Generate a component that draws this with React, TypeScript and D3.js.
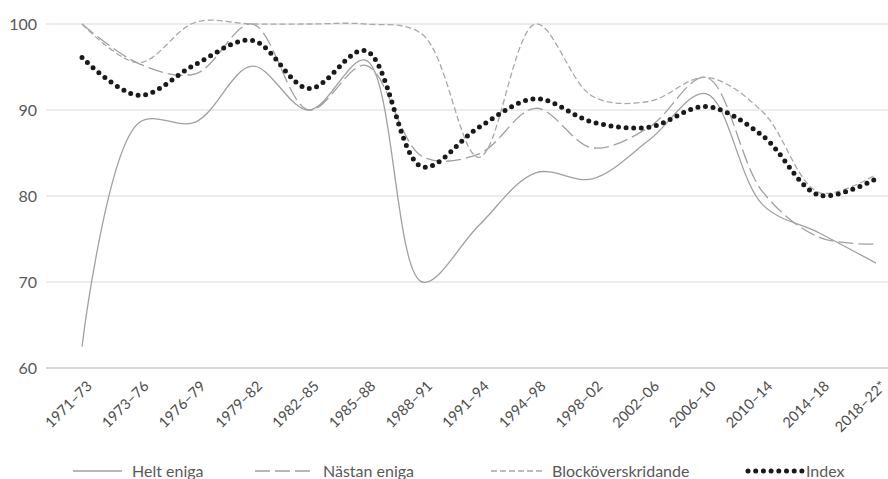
import * as d3 from "d3";

const categories = [
  "1971–73", "1973–76", "1976–79", "1979–82", "1982–85", "1985–88", "1988–91",
  "1991–94", "1994–98", "1998–02", "2002–06", "2006–10", "2010–14", "2014–18", "2018–22*",
];

const heltEniga = [62.5, 88.5, 88.6, 95.1, 90.0, 95.8, 70.0, 76.6, 82.7, 82.0, 86.5, 91.9, 79.0, 75.7, 72.2];
const nastanEniga = [100.0, 95.4, 94.2, 100.0, 90.0, 95.2, 84.6, 84.9, 90.2, 85.6, 88.0, 93.8, 80.5, 75.2, 74.4];
const blockoverskridande = [100.0, 95.5, 100.2, 100.0, 100.0, 100.0, 98.8, 84.5, 100.0, 91.6, 91.0, 93.8, 89.8, 80.4, 82.5];
const indexSeries = [96.1, 91.7, 95.3, 98.1, 92.5, 96.9, 83.4, 88.0, 91.3, 88.6, 88.0, 90.4, 87.0, 80.1, 82.0];

const yTicks = [60, 70, 80, 90, 100];

const series = [
  { name: "Helt eniga", values: heltEniga, color: "#a0a0a0", width: 1.3, dash: "", legendX: 73, legendW: 49 },
  { name: "Nästan eniga", values: nastanEniga, color: "#a0a0a0", width: 1.3, dash: "15 5", legendX: 255, legendW: 58 },
  { name: "Blocköverskridande", values: blockoverskridande, color: "#a8a8a8", width: 1.3, dash: "6 3", legendX: 491, legendW: 51 },
];

const font = "Lato, 'Open Sans', sans-serif";

export default function App() {
  const width = 888;
  const height = 479;

  const x = d3.scalePoint<string>().domain(categories).range([82, 876]);
  const y = d3.scaleLinear().domain([60, 100]).range([368, 24]);

  const line = d3
    .line<number>()
    .x((_, i) => x(categories[i]) as number)
    .y((d) => y(d))
    .curve(d3.curveCatmullRom.alpha(0.5));

  const legendY = 471;

  return (
    <svg
      width={width}
      height={height}
      style={{ position: "absolute", left: 0, top: 0, background: "#fff" }}
      fontFamily={font}
    >
      {/* gridlines */}
      {yTicks.map((t) => (
        <line
          key={t}
          x1={46}
          x2={888}
          y1={y(t)}
          y2={y(t)}
          stroke="#d9d9d9"
          strokeWidth={t === 60 ? 2 : 1}
        />
      ))}
      {yTicks.map((t) => (
        <text key={"l" + t} x={37} y={y(t)} dy="0.35em" textAnchor="end" fontSize={16} fill="#595959">
          {t}
        </text>
      ))}

      {/* x labels */}
      {categories.map((c) => (
        <text
          key={c}
          transform={`translate(${(x(c) as number) + 11},${387}) rotate(-45)`}
          textAnchor="end"
          fontSize={14.5}
          fill="#4d4d4d"
        >
          {c}
        </text>
      ))}

      {/* lines */}
      {series.map((s) => (
        <path
          key={s.name}
          d={line(s.values) || ""}
          fill="none"
          stroke={s.color}
          strokeWidth={s.width}
          strokeDasharray={s.dash || undefined}
        />
      ))}
      <path
        d={line(indexSeries) || ""}
        fill="none"
        stroke="#1a1a1a"
        strokeWidth={5}
        strokeDasharray="0 7.6"
        strokeLinecap="round"
      />

      {/* legend */}
      {series.map((s) => (
        <g key={"lg" + s.name}>
          <line
            x1={s.legendX}
            x2={s.legendX + s.legendW}
            y1={legendY}
            y2={legendY}
            stroke={s.color}
            strokeWidth={s.width}
            strokeDasharray={s.dash || undefined}
          />
          <text x={s.legendX + s.legendW + 10} y={legendY} dy="0.38em" fontSize={16} fill="#595959">
            {s.name}
          </text>
        </g>
      ))}
      <line
        x1={748}
        x2={802}
        y1={legendY}
        y2={legendY}
        stroke="#1a1a1a"
        strokeWidth={5}
        strokeDasharray="0 7.7"
        strokeLinecap="round"
      />
      <text x={806} y={legendY} dy="0.38em" fontSize={16} fill="#595959">
        Index
      </text>
    </svg>
  );
}
